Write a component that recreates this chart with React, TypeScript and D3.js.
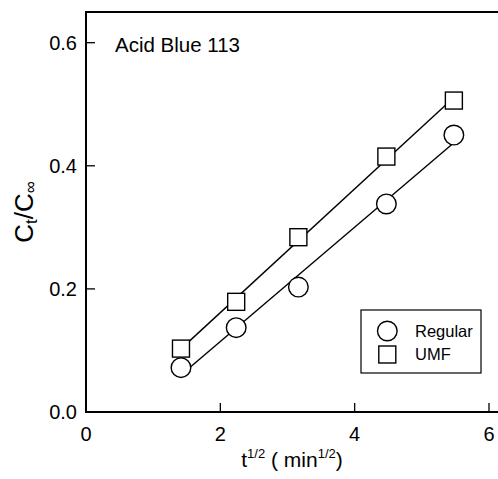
import { useRef, useEffect } from 'react';
import * as d3 from 'd3';

// t^1/2 values (sqrt of 2, 5, 10, 20, 30 min)
var SQRT_T = [1.414, 2.236, 3.162, 4.472, 5.477];
var REGULAR = [0.072, 0.137, 0.203, 0.338, 0.450];
var UMF = [0.103, 0.179, 0.284, 0.415, 0.506];
var X_TICKS = [0, 2, 4, 6];
var Y_TICKS = [0, 0.2, 0.4, 0.6];
var SERIES_NAMES = ['Regular', 'UMF'];

var FONT = 'Liberation Sans, Arial, Helvetica, sans-serif';

// least squares line through a series
function fitLine(xs: number[], ys: number[]) {
  var mx = d3.mean(xs) as number;
  var my = d3.mean(ys) as number;
  var sxy = 0;
  var sxx = 0;
  xs.forEach(function (x, i) {
    sxy += (x - mx) * (ys[i] - my);
    sxx += (x - mx) * (x - mx);
  });
  var b = sxy / sxx;
  var a = my - b * mx;
  return function (x: number) { return a + b * x; };
}

export default function App() {
  var svgRef = useRef<SVGSVGElement>(null);
  var width = 498;
  var height = 479;

  useEffect(function () {
    var svg = d3.select(svgRef.current);
    svg.selectAll('*').remove();

    var x = d3.scaleLinear().domain([0, 6]).range([86, 489]);
    var y = d3.scaleLinear().domain([0, 0.6]).range([412, 42.7]);
    var top = y(0.65);

    // frame: left, bottom, top (right side open / cropped)
    var frame = svg.append('g').attr('stroke', '#000').attr('stroke-width', 2).attr('fill', 'none');
    frame.append('path').attr('d', 'M' + width + ',' + top + 'H' + x(0) + 'V' + y(0) + 'H' + width);

    // y ticks (inward)
    Y_TICKS.forEach(function (v) {
      svg.append('line')
        .attr('x1', x(0)).attr('x2', x(0) + 9)
        .attr('y1', y(v)).attr('y2', y(v))
        .attr('stroke', '#000').attr('stroke-width', 1.3);
      svg.append('text')
        .attr('x', 77).attr('y', y(v))
        .attr('dy', '0.36em')
        .attr('text-anchor', 'end')
        .attr('font-family', FONT)
        .attr('font-size', '20px')
        .text(d3.format('.1f')(v));
    });

    // x ticks (inward)
    X_TICKS.forEach(function (v) {
      if (v !== 0) {
        svg.append('line')
          .attr('x1', x(v)).attr('x2', x(v))
          .attr('y1', y(0)).attr('y2', y(0) - 9)
          .attr('stroke', '#000').attr('stroke-width', 1.3);
      }
      svg.append('text')
        .attr('x', x(v)).attr('y', 441)
        .attr('text-anchor', 'middle')
        .attr('font-family', FONT)
        .attr('font-size', '20px')
        .text(v);
    });

    // fitted lines
    [REGULAR, UMF].forEach(function (ys) {
      var f = fitLine(SQRT_T, ys);
      var x0 = SQRT_T[0];
      var x1 = SQRT_T[SQRT_T.length - 1];
      svg.append('line')
        .attr('x1', x(x0)).attr('y1', y(f(x0)))
        .attr('x2', x(x1)).attr('y2', y(f(x1)))
        .attr('stroke', '#000').attr('stroke-width', 1.4);
    });

    // markers
    SQRT_T.forEach(function (t, i) {
      svg.append('circle')
        .attr('cx', x(t)).attr('cy', y(REGULAR[i]))
        .attr('r', 9.8)
        .attr('fill', '#fff').attr('stroke', '#000').attr('stroke-width', 1.4);
    });
    SQRT_T.forEach(function (t, i) {
      svg.append('rect')
        .attr('x', x(t) - 8.5).attr('y', y(UMF[i]) - 8.5)
        .attr('width', 17).attr('height', 17)
        .attr('fill', '#fff').attr('stroke', '#000').attr('stroke-width', 1.4);
    });

    // annotation
    svg.append('text')
      .attr('x', 115).attr('y', 52)
      .attr('font-family', FONT)
      .attr('font-size', '20.5px')
      .text('Acid Blue 113');

    // legend
    var lg = svg.append('g');
    lg.append('rect')
      .attr('x', 361).attr('y', 310).attr('width', 120).attr('height', 63)
      .attr('fill', '#fff').attr('stroke', '#000').attr('stroke-width', 1.2);
    lg.append('circle')
      .attr('cx', 387.3).attr('cy', 331).attr('r', 9.8)
      .attr('fill', '#fff').attr('stroke', '#000').attr('stroke-width', 1.4);
    lg.append('rect')
      .attr('x', 387.3 - 8.5).attr('y', 354.5 - 8.5).attr('width', 17).attr('height', 17)
      .attr('fill', '#fff').attr('stroke', '#000').attr('stroke-width', 1.4);
    SERIES_NAMES.forEach(function (name, i) {
      lg.append('text')
        .attr('x', 415).attr('y', i === 0 ? 331 : 354.5)
        .attr('dy', '0.36em')
        .attr('font-family', FONT)
        .attr('font-size', '16.5px')
        .text(name);
    });

    // x axis title
    var xt = svg.append('text')
      .attr('x', 292).attr('y', 467)
      .attr('text-anchor', 'middle')
      .attr('font-family', FONT)
      .attr('font-size', '21px');
    xt.append('tspan').text('t');
    xt.append('tspan').attr('font-size', '13px').attr('dy', -9).text('1/2');
    xt.append('tspan').attr('dy', 9).text(' ( min');
    xt.append('tspan').attr('font-size', '13px').attr('dy', -9).text('1/2');
    xt.append('tspan').attr('dy', 9).text(')');

    // y axis title
    var yt = svg.append('text')
      .attr('transform', 'translate(33,' + ((top + y(0)) / 2) + ') rotate(-90)')
      .attr('text-anchor', 'middle')
      .attr('font-family', FONT)
      .attr('font-size', '26px');
    yt.append('tspan').text('C');
    yt.append('tspan').attr('font-size', '17px').attr('dy', 4).text('t');
    yt.append('tspan').attr('dy', -4).text('/C');
    yt.append('tspan').attr('font-size', '17px').attr('dy', 3).text('\u221E');
  }, []);

  return (
    <svg
      ref={svgRef}
      width={width}
      height={height}
      style={{ position: 'absolute', left: 0, top: 0, background: '#fff' }}
      aria-label="Acid Blue 113 uptake"
    />
  );
}
